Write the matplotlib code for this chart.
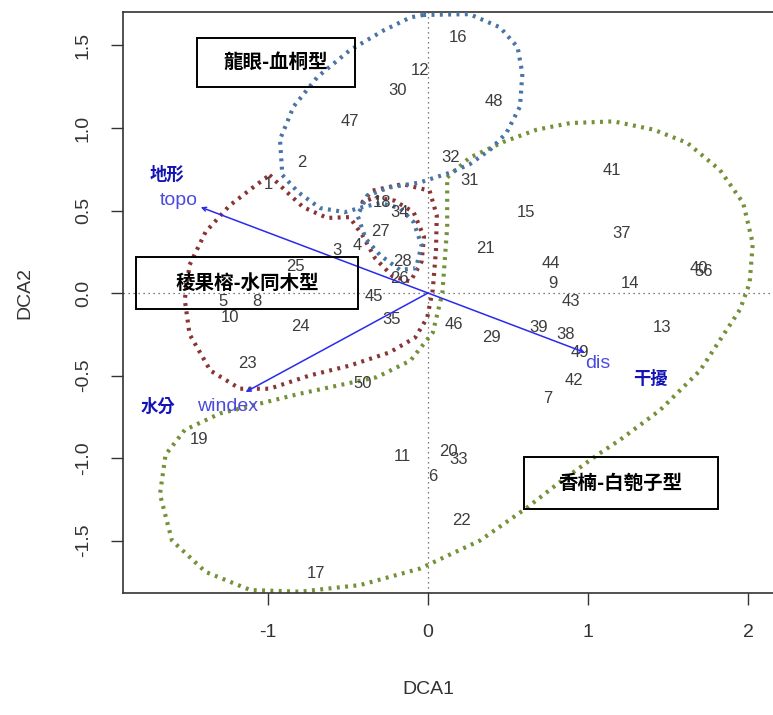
import numpy as np
import matplotlib
matplotlib.use("Agg")
import matplotlib.pyplot as plt
from matplotlib.patches import Rectangle

plt.rcParams['font.family'] = ['Liberation Sans', 'DejaVu Sans']
plt.rcParams['axes.unicode_minus'] = False

# site scores (DCA1, DCA2)
site_ids = ["16", "12", "30", "48", "47", "32", "2", "41", "31", "1",
            "18", "34", "15", "37", "27", "4", "3", "21", "28", "44",
            "26", "25", "40", "56", "9", "14", "45", "5", "8", "43",
            "10", "35", "24", "46", "13", "39", "29", "38", "49", "23",
            "42", "50", "7", "19", "20", "11", "33", "6", "22", "17"]
site_x = [0.19, -0.05, -0.19, 0.41, -0.49, 0.14, -0.79, 1.15, 0.26, -1.00,
          -0.29, -0.18, 0.61, 1.21, -0.30, -0.44, -0.57, 0.36, -0.16, 0.77,
          -0.18, -0.83, 1.69, 1.72, 0.78, 1.26, -0.34, -1.28, -1.07, 0.89,
          -1.24, -0.23, -0.80, 0.16, 1.46, 0.69, 0.40, 0.86, 0.95, -1.13,
          0.91, -0.41, 0.75, -1.43, 0.13, -0.16, 0.19, 0.03, 0.21, -0.70]
site_y = [1.55, 1.35, 1.23, 1.16, 1.04, 0.82, 0.79, 0.74, 0.68, 0.66,
          0.55, 0.49, 0.49, 0.36, 0.37, 0.29, 0.26, 0.27, 0.19, 0.18,
          0.09, 0.16, 0.15, 0.13, 0.06, 0.06, -0.02, -0.05, -0.05, -0.05,
          -0.15, -0.16, -0.20, -0.19, -0.21, -0.21, -0.27, -0.25, -0.36, -0.43,
          -0.53, -0.55, -0.64, -0.89, -0.96, -0.99, -1.01, -1.11, -1.38, -1.70]

# environmental vectors
env_names = ["topo", "windex", "dis"]
env_cn = ["地形", "水分", "干擾"]
env_x = [-1.42, -1.14, 0.98]
env_y = [0.52, -0.60, -0.36]

# group outlines
blue_x = [-0.03, 0.26, 0.45, 0.56, 0.59, 0.575, 0.49, 0.39, 0.26, 0.14, -0.05, -0.24, -0.38,
          -0.44, -0.39, -0.30, -0.175, -0.075, -0.04, -0.09, -0.175, -0.30, -0.41,
          -0.52, -0.675, -0.81, -0.91, -0.925, -0.84, -0.69, -0.49, -0.28, -0.11, -0.03]
blue_y = [1.685, 1.69, 1.61, 1.49, 1.33, 1.13, 0.97, 0.87, 0.78, 0.73, 0.67, 0.64, 0.59,
          0.47, 0.33, 0.23, 0.14, 0.15, 0.29, 0.43, 0.515, 0.545, 0.52,
          0.49, 0.515, 0.61, 0.715, 0.93, 1.13, 1.31, 1.47, 1.59, 1.67, 1.685]
red_x = [-0.99, -0.88, -0.78, -0.63, -0.49,
         -0.41, -0.33, -0.22, -0.11, -0.04, -0.025, -0.09, -0.21, -0.33, -0.41,
         -0.35, -0.16, 0.01, 0.055, 0.05, 0.03, -0.005, -0.08, -0.24, -0.49, -0.74,
         -0.99, -1.175, -1.36, -1.49, -1.52, -1.49, -1.39, -1.24, -1.08, -0.99]
red_y = [0.715, 0.61, 0.52, 0.455, 0.46,
         0.35, 0.21, 0.10, 0.07, 0.19, 0.34, 0.49, 0.56, 0.58, 0.55,
         0.62, 0.66, 0.62, 0.47, 0.26, 0.02, -0.15, -0.27, -0.36, -0.44, -0.50,
         -0.58, -0.58, -0.47, -0.25, -0.04, 0.17, 0.37, 0.53, 0.65, 0.715]
green_x = [0.12, 0.26, 0.47, 0.68, 0.89, 1.16, 1.41, 1.62, 1.825, 1.97, 2.03, 2.01, 1.95,
           1.825, 1.70, 1.45, 1.20, 1.06, 0.825, 0.62, 0.325, -0.05, -0.425, -0.80,
           -1.11, -1.39, -1.60, -1.675, -1.64, -1.52, -1.30, -1.05, -0.80, -0.32, -0.11,
           0.03, 0.09, 0.12, 0.12]
green_y = [0.70, 0.82, 0.915, 0.99, 1.03, 1.04, 0.99, 0.91, 0.745, 0.545, 0.30, 0.06, -0.10,
           -0.285, -0.47, -0.71, -0.89, -0.98, -1.145, -1.30, -1.50, -1.67, -1.77, -1.81,
           -1.80, -1.69, -1.50, -1.22, -0.98, -0.83, -0.73, -0.67, -0.61, -0.51, -0.41,
           -0.24, 0.0, 0.40, 0.70]

group_names = ["龍眼-血桐型", "稜果榕-水同木型", "香楠-白匏子型"]

fig = plt.figure(figsize=(7.73, 7.15), dpi=100)
ax = fig.add_axes([123 / 773, 122 / 715, 667 / 773, 581 / 715])
ax.set_xlim(-1.906, 2.2625)
ax.set_ylim(-1.818, 1.703)

ax.axhline(0, color="#555555", lw=0.9, ls=(0, (1, 3)), zorder=1)
ax.axvline(0, color="#555555", lw=0.9, ls=(0, (1, 3)), zorder=1)

dot = (0, (0.7, 1.3))
ax.plot(green_x, green_y, color="#74913a", lw=3, ls=dot, zorder=2)
ax.plot(red_x, red_y, color="#8a3535", lw=3, ls=dot, zorder=3)
ax.plot(blue_x, blue_y, color="#4a74a6", lw=3, ls=dot, zorder=4)

for s, x, y in zip(site_ids, site_x, site_y):
    ax.text(x, y, s, ha="center", va="center", fontsize=12, color="#3c3c3c", zorder=5)

for name, cn, x, y in zip(env_names, env_cn, env_x, env_y):
    ax.annotate("", xy=(x, y), xytext=(0, 0),
                arrowprops=dict(arrowstyle="->", color="#2a2aee", lw=1.1,
                                mutation_scale=7, shrinkA=0, shrinkB=0), zorder=6)

ax.text(-1.56, 0.56, "topo", color="#4b4bdd", fontsize=14, ha="center", va="center")
ax.text(-1.25, -0.69, "windex", color="#4b4bdd", fontsize=14, ha="center", va="center")
ax.text(1.06, -0.43, "dis", color="#4b4bdd", fontsize=14, ha="center", va="center")
cn_pos = [(-1.63, 0.715), (-1.69, -0.69), (1.39, -0.52)]
for cn, (x, y) in zip(env_cn, cn_pos):
    ax.text(x, y, cn, color="#1414b4", fontsize=12.5, fontweight="bold",
            family=["Noto Sans CJK TC", "DejaVu Sans"], ha="center", va="center")

boxes = [(-1.444, 1.248, 0.988, 0.297), (-1.825, -0.097, 1.3875, 0.315),
         (0.60, -1.309, 1.2125, 0.315)]
for name, (bx, by, bw, bh) in zip(group_names, boxes):
    ax.add_patch(Rectangle((bx, by), bw, bh, fill=False, ec="black", lw=1.4, zorder=7))
    ax.text(bx + bw / 2, by + bh / 2, name, fontsize=14, fontweight="bold", color="black",
            family=["Noto Sans CJK TC", "DejaVu Sans"], ha="center", va="center", zorder=8)

ax.set_xticks([-1, 0, 1, 2])
ax.set_yticks([-1.5, -1.0, -0.5, 0.0, 0.5, 1.0, 1.5])
ax.set_yticklabels(["-1.5", "-1.0", "-0.5", "0.0", "0.5", "1.0", "1.5"], rotation=90, va="center")
ax.tick_params(length=8.5, width=1, color="#333333", labelsize=14, labelcolor="#333333", pad=14)
for sp in ax.spines.values():
    sp.set_color("#333333")
    sp.set_linewidth(1.2)

fig.text(428 / 773, 1 - 690 / 715, "DCA1", fontsize=14, color="#333333", ha="center", va="center")
fig.text(25 / 773, 1 - 293 / 715, "DCA2", fontsize=14, color="#333333", ha="center", va="center",
         rotation=90)

fig.savefig("out.png", dpi=100)
